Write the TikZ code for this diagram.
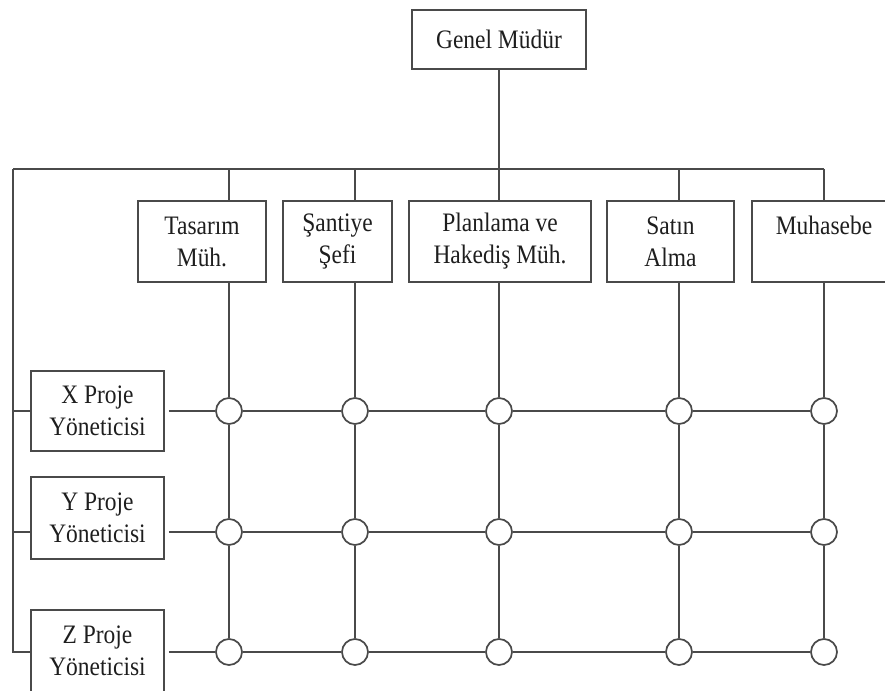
\documentclass[tikz,border=0pt]{standalone}
\usepackage{fontspec}
\setmainfont[FakeStretch=0.88]{Liberation Serif}
\def\u{0.75pt}
\definecolor{ln}{HTML}{4A4A4A}
\definecolor{tx}{HTML}{1E1E1E}
\begin{document}
\begin{tikzpicture}[x=0.75pt,y=-0.75pt,
  box/.style={draw=ln,line width=1.4pt,inner sep=0pt,align=center,text=tx,
    font=\fontsize{20}{24}\selectfont},
  dot/.style={circle,draw=ln,line width=1.3pt,fill=white,minimum size=26*\u,inner sep=0pt},
  ln/.style={draw=ln,line width=1.3pt}]
\useasboundingbox (0,0) rectangle (885,691);
\clip (0,0) rectangle (885,691);
\node[box,minimum width=174*\u,minimum height=59*\u] (gm) at (499,39.5) {Genel Müdür};
\node[box,minimum width=128*\u,minimum height=81*\u] (tas) at (202,241.5) {Tasarım\\Müh.};
\node[box,minimum width=109*\u,minimum height=81*\u] (san) at (337.5,241.5) {Şantiye\\Şefi};
\node[box,minimum width=182*\u,minimum height=81*\u] (plan) at (500,241.5) {Planlama ve\\Hakediş Müh.};
\node[box,minimum width=127*\u,minimum height=81*\u] (sat) at (670.5,241.5) {Satın\\Alma};
\node[box,minimum width=144*\u,minimum height=81*\u] (muh) at (824,241.5) {Muhasebe\\\mbox{}};
\node[box,minimum width=133*\u,minimum height=80*\u] (X) at (97.5,411) {X Proje\\Yöneticisi};
\node[box,minimum width=133*\u,minimum height=82*\u] (Y) at (97.5,518) {Y Proje\\Yöneticisi};
\node[box,minimum width=133*\u,minimum height=82*\u] (Z) at (97.5,651) {Z Proje\\Yöneticisi};
\foreach \c/\x in {1/229,2/355,3/499,4/679,5/824}{
  \foreach \r/\y in {1/411,2/532,3/652}{
    \node[dot] (c\r\c) at (\x,\y) {};
  }
}
\coordinate (tl) at (13,169);
\coordinate (tr) at (824,169);
\draw[ln] (gm) -- (gm |- tl);
\draw[ln] (tl) -- (tr);
\draw[ln] (tl) -- (tl |- c31) -- (Z.west |- c31);
\draw[ln] (tl |- c11) -- (X.west |- c11);
\draw[ln] (tl |- c21) -- (Y.west |- c21);
\foreach \b/\c in {tas/1,san/2,plan/3,sat/4,muh/5}{
  \draw[ln] (c1\c |- tl) -- (c1\c |- \b.north);
  \draw[ln] (c1\c |- \b.south) -- (c1\c) -- (c2\c) -- (c3\c);
}
\draw[ln] ([xshift=4*\u]X.east |- c11) -- (c11) -- (c12) -- (c13) -- (c14) -- (c15);
\draw[ln] ([xshift=4*\u]Y.east |- c21) -- (c21) -- (c22) -- (c23) -- (c24) -- (c25);
\draw[ln] ([xshift=4*\u]Z.east |- c31) -- (c31) -- (c32) -- (c33) -- (c34) -- (c35);
\end{tikzpicture}
\end{document}
